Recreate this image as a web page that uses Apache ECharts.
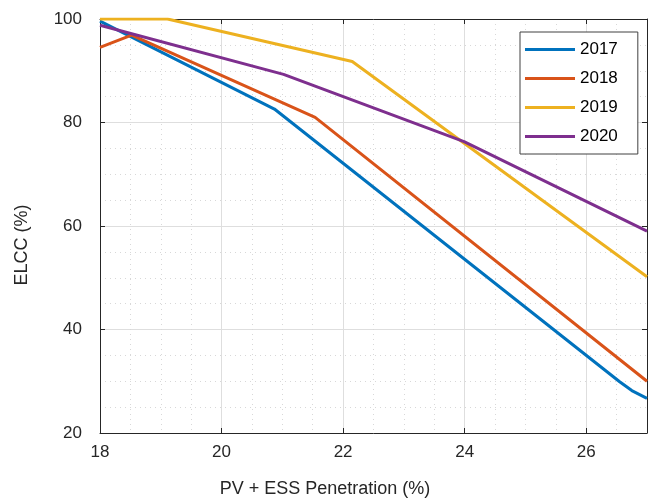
<!DOCTYPE html>
<html>
<head>
<meta charset="utf-8">
<script src="https://cdn.jsdelivr.net/npm/echarts@6/dist/echarts.min.js"></script>
<style>html,body{margin:0;padding:0;background:#fff;}#c{width:650px;height:502px;}</style>
</head>
<body>
<div id="c"></div>
<script>
var seriesNames = ['2017', '2018', '2019', '2020'];
var x2017 = [18, 20.87, 26.55, 26.75, 27];
var y2017 = [99.6, 82.6, 29.9, 28.2, 26.7];
var x2018 = [18, 18.52, 21.54, 27];
var y2018 = [94.5, 96.9, 81.0, 30.0];
var x2019 = [18, 19.11, 22.15, 27];
var y2019 = [100, 100, 91.8, 50.2];
var x2020 = [18, 21.02, 23.99, 27];
var y2020 = [98.8, 89.3, 76.3, 59.0];
var xTicks = [18, 20, 22, 24, 26];
var yTicks = [20, 40, 60, 80, 100];
var colors = ['#0072BD', '#D95319', '#EDB120', '#7E2F8E'];

function pairs(xs, ys) { return xs.map(function (v, i) { return [v, ys[i]]; }); }
var allData = [pairs(x2017, y2017), pairs(x2018, y2018), pairs(x2019, y2019), pairs(x2020, y2020)];

var axisCol = '#262626';
var font = 'Liberation Sans, Arial, Helvetica, sans-serif';

var chart = echarts.init(document.getElementById('c'));
var baseX = {
  type: 'value', min: 18, max: 27, interval: 2,
  axisLine: { show: true, onZero: false, lineStyle: { color: axisCol, width: 1 } },
  axisTick: { show: true, inside: true, length: 5, lineStyle: { color: axisCol } },
  minorTick: { show: false, splitNumber: 4 },
  splitLine: { show: false }, minorSplitLine: { show: false }
};
var baseY = {
  type: 'value', min: 20, max: 100, interval: 20,
  axisLine: { show: true, onZero: false, lineStyle: { color: axisCol, width: 1 } },
  axisTick: { show: true, inside: true, length: 5, lineStyle: { color: axisCol } },
  minorTick: { show: false, splitNumber: 4 },
  splitLine: { show: false }, minorSplitLine: { show: false }
};

var option = {
  animation: false,
  color: colors,
  grid: { left: 100, top: 19, width: 551, height: 414, containLabel: false },
  xAxis: [
    Object.assign({}, baseX, {
      position: 'bottom',
      axisLabel: { show: true, margin: 11, fontSize: 17, color: axisCol, fontFamily: font,
        formatter: function (v) { return xTicks.indexOf(v) >= 0 ? String(v) : ''; } },
      splitLine: { show: true, lineStyle: { color: '#dedede', width: 1 } },
      minorSplitLine: { show: true, lineStyle: { color: '#d8d8d8', width: 1, type: [1, 4] } }
    }),
    Object.assign({}, baseX, { position: 'top', axisLabel: { show: false } })
  ],
  yAxis: [
    Object.assign({}, baseY, {
      position: 'left',
      axisLabel: { show: true, margin: 18, fontSize: 17, color: axisCol, fontFamily: font,
        formatter: function (v) { return yTicks.indexOf(v) >= 0 ? String(v) : ''; } },
      splitLine: { show: true, lineStyle: { color: '#dedede', width: 1 } },
      minorSplitLine: { show: true, lineStyle: { color: '#d8d8d8', width: 1, type: [1, 4] } }
    }),
    Object.assign({}, baseY, { position: 'right', axisLabel: { show: false } })
  ],
  legend: {
    orient: 'vertical', left: 520, top: 32,
    data: seriesNames,
    icon: 'rect', itemWidth: 50, itemHeight: 3, itemGap: 12,
    padding: [9, 20, 9, 5],
    backgroundColor: '#fff', borderColor: '#404040', borderWidth: 1,
    textStyle: { fontSize: 17, color: '#000', fontFamily: font }
  },
  graphic: [
    { type: 'text', left: 'center', x: 0, style: { text: 'PV + ESS Penetration (%)', font: '18px ' + font, fill: axisCol, x: 341, y: 489, align: 'center', verticalAlign: 'middle' } },
    { type: 'text', rotation: Math.PI / 2, x: 22, y: 245, style: { text: 'ELCC (%)', font: '18px ' + font, fill: axisCol, x: 0, y: 0, align: 'center', verticalAlign: 'middle' } }
  ],
  series: seriesNames.map(function (n, i) {
    return { name: n, type: 'line', data: allData[i], showSymbol: false, symbol: 'none',
      lineStyle: { width: 3, color: colors[i] }, itemStyle: { color: colors[i] }, clip: true };
  })
};
chart.setOption(option);
</script>
</body>
</html>
